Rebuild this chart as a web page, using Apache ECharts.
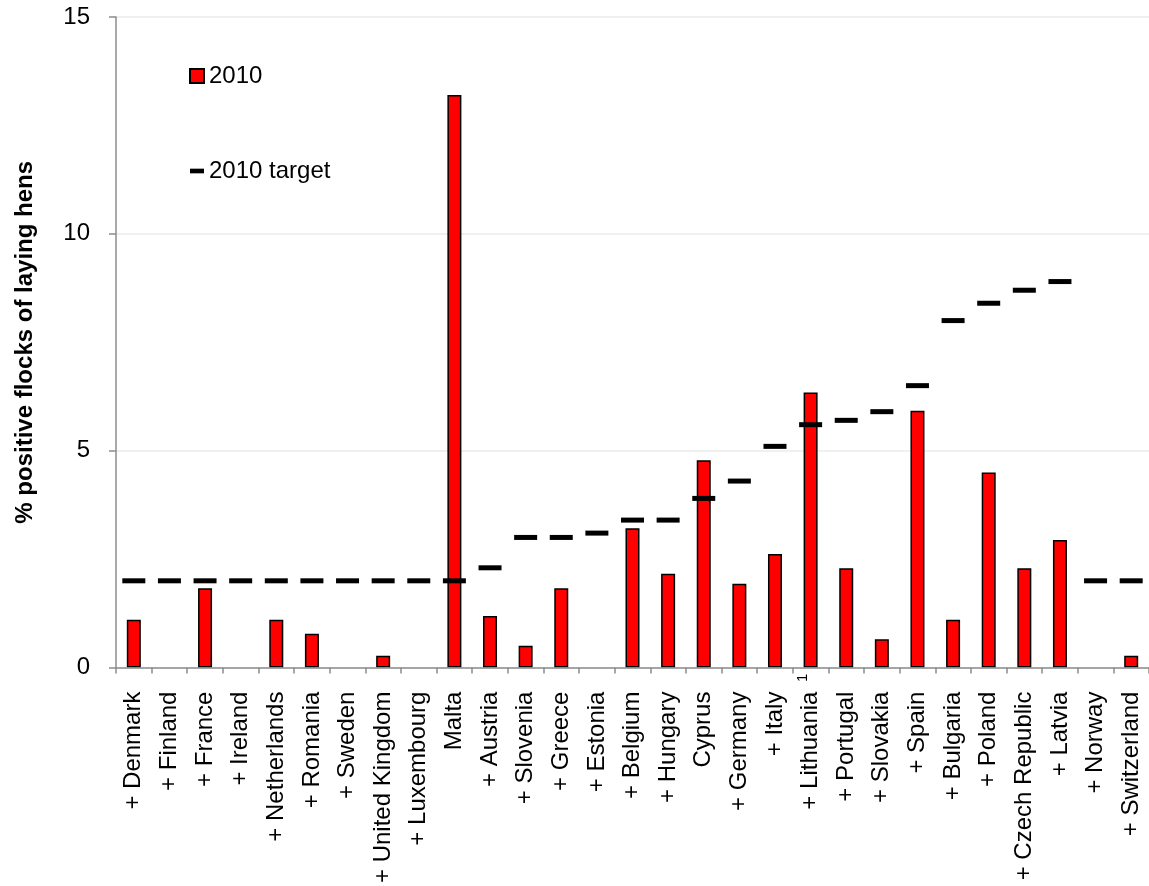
<!DOCTYPE html>
<html>
<head>
<meta charset="utf-8">
<script src="https://cdn.jsdelivr.net/npm/echarts@6/dist/echarts.min.js"></script>
<style>
html,body{margin:0;padding:0;background:#fff;}
#chart{width:1149px;height:886px;}
</style>
</head>
<body>
<div id="chart"></div>
<script>
const categories = ['+ Denmark', '+ Finland', '+ France', '+ Ireland', '+ Netherlands', '+ Romania', '+ Sweden', '+ United Kingdom', '+ Luxembourg', 'Malta', '+ Austria', '+ Slovenia', '+ Greece', '+ Estonia', '+ Belgium', '+ Hungary', 'Cyprus', '+ Germany', '+ Italy', '+ Lithuania', '+ Portugal', '+ Slovakia', '+ Spain', '+ Bulgaria', '+ Poland', '+ Czech Republic', '+ Latvia', '+ Norway', '+ Switzerland'];
const values2010 = [1.10, 0, 1.83, 0, 1.10, 0.78, 0, 0.27, 0, 13.2, 1.19, 0.50, 1.83, 0, 3.21, 2.16, 4.78, 1.93, 2.62, 6.34, 2.29, 0.65, 5.92, 1.10, 4.50, 2.29, 2.94, 0, 0.27];
const targets2010 = [2.0, 2.0, 2.0, 2.0, 2.0, 2.0, 2.0, 2.0, 2.0, 2.0, 2.3, 3.0, 3.0, 3.1, 3.4, 3.4, 3.9, 4.3, 5.1, 5.6, 5.7, 5.9, 6.5, 8.0, 8.4, 8.7, 8.9, 2.0, 2.0];
const footnoteCategory = '+ Lithuania';
const footnoteMark = '1';
const yTicks = [0, 5, 10, 15];

const FONT = '"Liberation Sans", Arial, sans-serif';
const chart = echarts.init(document.getElementById('chart'), null, {renderer: 'canvas'});

const barData = values2010.map(v => v === 0 ? {value: v, itemStyle: {borderWidth: 0}} : v);

chart.setOption({
  animation: false,
  backgroundColor: '#ffffff',
  textStyle: {fontFamily: FONT, color: '#000'},
  legend: {
    orient: 'vertical',
    left: 189,
    top: 64,
    padding: 0,
    itemGap: 71,
    itemWidth: 14,
    itemHeight: 14,
    textStyle: {fontFamily: FONT, fontSize: 24, color: '#000'},
    data: [
      {name: '2010', icon: 'rect'},
      {name: '2010 target', icon: 'path://M0,0H12V4H0Z'}
    ]
  },
  grid: {left: 116, top: 17, width: 1038, height: 652, containLabel: false},
  xAxis: [
    {
      type: 'category',
      data: categories,
      axisLine: {lineStyle: {color: '#8c8c8c', width: 1.5}},
      axisTick: {show: true, length: 6, lineStyle: {color: '#8c8c8c', width: 1.5}},
      axisLabel: {
        interval: 0,
        rotate: 90,
        margin: 24,
        fontSize: 24,
        fontFamily: FONT,
        color: '#000'
      },
      z: 3
    },
    {
      type: 'category',
      data: categories,
      position: 'bottom',
      axisLine: {show: false},
      axisTick: {show: false},
      splitLine: {show: false},
      axisLabel: {
        interval: 0,
        rotate: 90,
        margin: 6,
        fontSize: 15,
        lineHeight: 16,
        fontFamily: FONT,
        color: '#000',
        formatter: v => v === footnoteCategory ? footnoteMark + '\n ' : ''
      }
    }
  ],
  yAxis: {
    type: 'value',
    min: 0,
    max: 15,
    interval: 5,
    name: '% positive flocks of laying hens',
    nameLocation: 'middle',
    nameGap: 79,
    nameTextStyle: {fontFamily: FONT, fontSize: 24, fontWeight: 'bold', color: '#000'},
    axisLine: {show: true, lineStyle: {color: '#8c8c8c', width: 1.5}},
    axisTick: {show: true, length: 7, lineStyle: {color: '#8c8c8c', width: 1.5}},
    axisLabel: {
      margin: 26,
      fontSize: 24,
      fontFamily: FONT,
      color: '#000',
      formatter: v => yTicks.indexOf(v) >= 0 ? String(v) : ''
    },
    splitLine: {show: true, lineStyle: {color: '#ebebeb', width: 1.5}}
  },
  series: [
    {
      name: '2010',
      type: 'bar',
      data: barData,
      barWidth: 14,
      itemStyle: {color: '#ff0000', borderColor: '#000', borderWidth: 1.5},
      z: 2
    },
    {
      name: '2010 target',
      type: 'scatter',
      data: targets2010,
      symbol: 'rect',
      symbolSize: [23, 5],
      itemStyle: {color: '#000', opacity: 1},
      z: 5
    }
  ]
});
</script>
</body>
</html>
